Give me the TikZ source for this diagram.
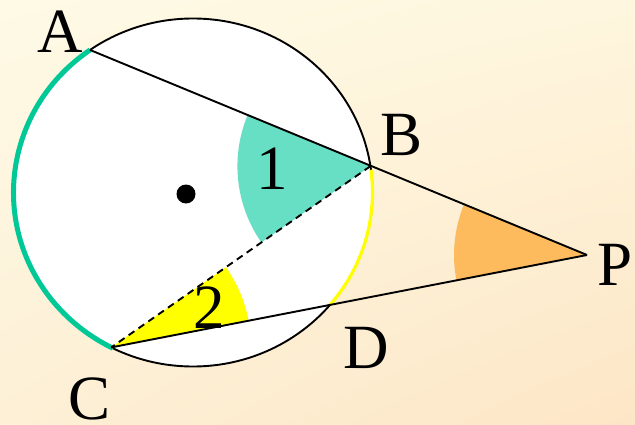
\documentclass[tikz,border=0pt]{standalone}
\usepackage{fontspec}
\setmainfont{Liberation Serif}
\usetikzlibrary{calc,shadings}
\definecolor{bgTL}{HTML}{FEFAE6}
\definecolor{bgTR}{HTML}{FEF6DE}
\definecolor{bgBL}{HTML}{FDF0D6}
\definecolor{bgBR}{HTML}{FDE6C6}
\definecolor{tealfill}{HTML}{66DFC4}
\definecolor{greenarc}{HTML}{00C896}
\definecolor{yel}{HTML}{FFFF00}
\definecolor{orangefill}{HTML}{FDBB5E}
\begin{document}
\begin{tikzpicture}[x=1pt,y=1pt,
  lbl/.style={inner sep=0pt, font=\fontsize{63}{63}\selectfont},
  thinline/.style={line width=1.9pt, black},
  dashline/.style={line width=1.9pt, black, dash pattern=on 7pt off 5pt}]
\useasboundingbox (0,0) rectangle (635,424);
\shade[upper left=bgTL, upper right=bgTR, lower left=bgBL, lower right=bgBR] (0,0) rectangle (635,424);
% circle geometry
\coordinate (O) at (193,231.5);
\coordinate (A) at ($(O)+(125:179.5 and 174)$);
\coordinate (B) at ($(O)+(8.7:179.5 and 174)$);
\coordinate (C) at ($(O)+(242.9:179.5 and 174)$);
\coordinate (D) at ($(O)+(-40.4:179.5 and 174)$);
\coordinate (P) at (587,169);
% white disc
\fill[white] (O) ellipse [x radius=179.5, y radius=174];
% angle sectors
\fill[tealfill] (B) -- ++(157.5:133) arc[start angle=157.5, end angle=214.96, radius=133] -- cycle;
\fill[yel] (C) -- ++(10.9:140) arc[start angle=10.9, end angle=34.96, radius=140] -- cycle;
\fill[orangefill] (P) -- ++(157.7:133) arc[start angle=157.7, end angle=191.06, radius=133] -- cycle;
% circle outline
\draw[thinline] (O) ellipse [x radius=179.5, y radius=174];
% coloured arcs
\draw[greenarc, line width=5pt] (A) arc[start angle=125, end angle=243.5, x radius=179.5, y radius=174];
\draw[yel, line width=3.2pt] ($(O)+(7.5:179.5 and 174)$) arc[start angle=7.5, end angle=-40.4, x radius=179.5, y radius=174];
% lines
\draw[thinline] (A) -- (P);
\draw[thinline] (C) -- (P);
\draw[dashline] (B) -- (C);
% centre dot
\fill[black] (186,230) circle[radius=9.5];
% labels
\node[lbl] (lA) at (60,392.5) {A};
\node[lbl] (lB) at (401.5,289.5) {B};
\node[lbl] (lC) at (90,25) {C};
\node[lbl] (lD) at (366,76) {D};
\node[lbl] (lP) at (615,159) {P};
\node[lbl] (l1) at (272,255) {1};
\node[lbl] (l2) at (209,116.5) {2};
\end{tikzpicture}
\end{document}
